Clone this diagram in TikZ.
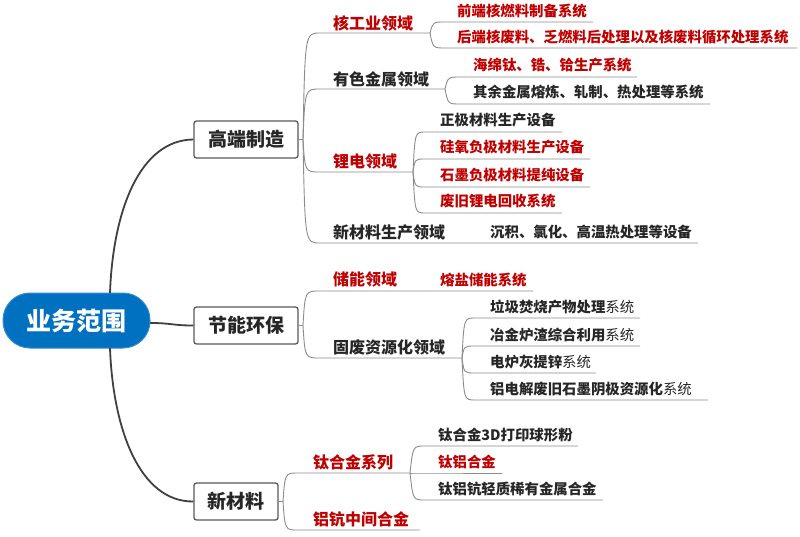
\documentclass[tikz,border=0pt]{standalone}
\usepackage{fontspec}
\setmainfont{Noto Sans CJK SC}
\usetikzlibrary{calc}
\definecolor{mmred}{HTML}{C00000}
\definecolor{mmtext}{HTML}{262626}
\definecolor{mmblue}{HTML}{0070C0}
\definecolor{mmline}{HTML}{8C8C8C}
\definecolor{mmdark}{HTML}{404040}
\definecolor{mmbox}{HTML}{595959}
\newcommand\mmbr[6]{% name, fork, y, x0, x1, ctrl x
  \coordinate (#1-s) at (#4,#3);
  \coordinate (#1-e) at (#5,#3);
  \draw[leafline] (#2) .. controls (#6,#3) .. (#1-s) -- (#1-e);}
\begin{document}
\begin{tikzpicture}[x=1pt,y=-1pt,
  leafline/.style={draw=mmline,line width=0.9pt},
  rootline/.style={draw=mmdark,line width=1.8pt},
  lvtwo/.style={anchor=base west,inner sep=0pt,font=\fontsize{16pt}{16pt}\selectfont\bfseries,text=mmtext},
  lvthree/.style={anchor=base west,inner sep=0pt,font=\fontsize{14.4pt}{14.4pt}\selectfont\bfseries,text=mmtext},
  hl/.style={text=mmred},
  topbox/.style={draw=mmbox,line width=1.3pt,rounded corners=2.5pt,fill=white,inner sep=0pt,
    font=\fontsize{19pt}{19pt}\selectfont\bfseries,text=mmtext}]
\useasboundingbox[fill=white] (0,0) rectangle (800,537);

% root
\node[fill=mmblue,draw=mmblue!80!white,line width=1pt,rounded corners=27pt,minimum width=147pt,minimum height=55pt,inner sep=0pt,
  font=\fontsize{25pt}{25pt}\selectfont\bfseries,text=white] (root) at (76.5,320.5) {业务范围};
\coordinate (rt) at (110,293);
\coordinate (rb) at (110,348);
\coordinate (rr) at (150,323);

% level 1 boxes
\node[topbox,minimum width=104pt,minimum height=37pt] (gd) at (246,139.5) {高端制造};
\node[topbox,minimum width=104pt,minimum height=37pt] (jn) at (246,325.5) {节能环保};
\node[topbox,minimum width=84pt,minimum height=37pt] (xc) at (236,501.5) {新材料};

\draw[rootline] (rt) .. controls (113,210) and (140,140) .. (gd.west);
\draw[rootline] (rr) .. controls (172,323) and (172,325.5) .. (jn.west);
\draw[rootline] (rb) .. controls (113,430) and (140,502) .. (xc.west);

% forks of level 1
\coordinate (fgd) at (303,139.5);
\coordinate (fjn) at (303,325.5);
\coordinate (fxc) at (283,501.5);
\draw[leafline] (gd.east) -- (fgd);
\draw[leafline] (jn.east) -- (fjn);
\draw[leafline] (xc.east) -- (fxc);

% ---- 高端制造
\mmbr{hy}{fgd}{33}{320}{430}{305}
\mmbr{ys}{fgd}{89}{320}{445}{305}
\mmbr{ld}{fgd}{172}{320}{413}{305}
\mmbr{xcl}{fgd}{243}{320}{698}{305}
\node[lvtwo,hl] (nhy) at (333,30) {核工业领域};
\node[lvtwo] (nys) at (333,86) {有色金属领域};
\node[lvtwo,hl] (nld) at (333,168) {锂电领域};
\node[lvtwo] (nxcl) at (333,239) {新材料生产领域};
\node[lvthree] (nxcl1) at (490,238) {沉积、氯化、高温热处理等设备};

% 核工业
\mmbr{hy1}{hy-e}{22}{445}{593}{433}
\mmbr{hy2}{hy-e}{48}{445}{797}{433}
\node[lvthree,hl] (nhy1) at (457,17) {前端核燃料制备系统};
\node[lvthree,hl] (nhy2) at (457,43) {后端核废料、乏燃料后处理以及核废料循环处理系统};

% 有色金属
\mmbr{ys1}{ys-e}{77}{460}{637}{448}
\mmbr{ys2}{ys-e}{104}{460}{710}{448}
\node[lvthree,hl] (nys1) at (473,71) {海绵钛、锆、铪生产系统};
\node[lvthree] (nys2) at (473,98) {其余金属熔炼、轧制、热处理等系统};

% 锂电
\mmbr{ld1}{ld-e}{132}{425}{562}{415}
\mmbr{ld2}{ld-e}{159}{425}{590}{415}
\mmbr{ld3}{ld-e}{187}{425}{590}{415}
\mmbr{ld4}{ld-e}{213}{425}{562}{415}
\node[lvthree] (nld1) at (440,126) {正极材料生产设备};
\node[lvthree,hl] (nld2) at (440,153) {硅氧负极材料生产设备};
\node[lvthree,hl] (nld3) at (440,181) {石墨负极材料提纯设备};
\node[lvthree,hl] (nld4) at (440,207) {废旧锂电回收系统};

% ---- 节能环保
\mmbr{cn}{fjn}{291}{320}{533}{305}
\mmbr{gf}{fjn}{358}{320}{462}{305}
\node[lvtwo,hl] (ncn) at (333,286) {储能领域};
\node[lvthree,hl] (ncn1) at (440,286) {熔盐储能系统};
\node[lvtwo] (ngf) at (333,353) {固废资源化领域};

\mmbr{gf1}{gf-e}{318}{475}{640}{464}
\mmbr{gf2}{gf-e}{346}{475}{640}{464}
\mmbr{gf3}{gf-e}{373}{475}{596}{464}
\mmbr{gf4}{gf-e}{400}{475}{708}{464}
\node[lvthree] (ngf1) at (490,312) {垃圾焚烧产物处理{\mdseries 系统}};
\node[lvthree] (ngf2) at (490,340) {冶金炉渣综合利用{\mdseries 系统}};
\node[lvthree] (ngf3) at (490,367) {电炉灰提锌{\mdseries 系统}};
\node[lvthree] (ngf4) at (490,394) {铝电解废旧石墨阴极资源化{\mdseries 系统}};

% ---- 新材料
\mmbr{th}{fxc}{473}{298}{410}{285}
\mmbr{lk}{fxc}{530}{298}{420}{285}
\node[lvtwo,hl] (nth) at (313,468) {钛合金系列};
\node[lvtwo,hl] (nlk) at (313,525) {铝钪中间合金};

\mmbr{th1}{th-e}{446}{425}{578}{413}
\mmbr{th2}{th-e}{473}{425}{502}{413}
\mmbr{th3}{th-e}{500}{425}{603}{413}
\node[lvthree] (nth1) at (438,440) {钛合金3D打印球形粉};
\node[lvthree,hl] (nth2) at (438,467) {钛铝合金};
\node[lvthree] (nth3) at (438,494) {钛铝钪轻质稀有金属合金};
\end{tikzpicture}
\end{document}
